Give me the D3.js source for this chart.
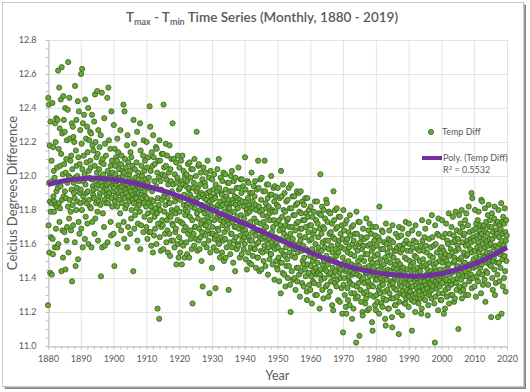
<!DOCTYPE html>
<html><head><meta charset="utf-8">
<script src="https://cdn.jsdelivr.net/npm/d3@7"></script>
<style>
body{margin:0;background:#fff}
svg{display:block}
text{font-family:Lato,"Open Sans","Liberation Sans",sans-serif}
</style></head>
<body><svg id="c" width="530" height="392"></svg>
<script>
// ---- data (monthly Tmax - Tmin, °C), one array per decade ----
const v1880=[11.24,12.46,11.71,12.42,11.96,11.55,12.18,11.85,11.43,12.32,11.79,11.64,
11.84,12.09,11.42,11.97,12.43,11.63,11.54,12.17,11.88,12.03,11.79,11.85,
11.99,11.58,12.31,11.83,12.20,11.69,12.34,11.91,11.82,12.05,11.58,12.33,
11.93,12.62,11.60,12.16,11.84,12.52,11.73,12.28,11.81,12.06,11.94,12.45,
12.13,11.44,12.64,11.86,12.25,11.68,12.01,11.52,12.47,11.88,12.33,12.07,
11.67,12.26,11.91,12.40,11.45,12.02,11.87,12.10,11.62,12.21,11.70,11.96,
12.39,11.82,12.67,11.55,12.00,11.75,12.46,11.86,12.22,11.99,12.09,11.79,
11.68,12.12,11.92,12.31,11.38,12.04,11.83,12.29,11.71,12.23,11.96,11.90,
12.20,11.87,11.61,12.53,11.99,11.47,12.15,11.80,12.33,12.06,11.93,12.00,
11.85,12.44,11.51,12.11,11.73,12.38,11.97,11.66,12.07,11.90,12.27,11.84];
const v1890=[11.92,12.60,11.69,12.19,11.80,12.63,12.04,11.58,12.31,11.88,11.97,12.12,
12.36,11.85,12.01,11.63,12.45,11.95,11.76,12.22,11.90,12.08,11.84,12.29,
11.72,12.14,11.91,12.40,11.60,12.03,11.86,12.21,11.99,11.82,12.26,12.09,
12.05,11.81,12.25,11.58,11.98,12.36,11.73,12.18,11.94,11.89,12.15,11.92,
11.87,12.32,11.66,12.06,12.48,11.75,12.20,11.97,11.84,12.11,11.93,12.02,
12.50,11.79,12.13,11.62,12.27,11.95,11.85,12.04,11.88,12.17,11.99,11.90,
11.83,12.24,11.41,12.08,11.96,12.49,11.58,11.94,12.10,11.78,12.01,11.91,
12.07,11.70,12.34,11.86,11.59,12.19,11.93,11.98,12.12,11.84,11.89,11.95,
11.92,12.46,11.61,12.03,11.84,12.52,11.88,12.21,11.96,11.90,12.00,11.99,
12.16,11.73,12.06,11.65,12.38,11.87,12.09,11.82,11.94,12.02,11.97,11.91];
const v1900=[11.66,12.30,11.93,11.47,12.16,11.85,12.06,12.01,11.88,12.11,11.95,11.97,
12.09,11.82,12.22,11.60,11.98,12.14,11.71,11.90,12.04,11.86,11.93,11.99,
11.78,12.27,11.91,12.07,11.68,12.12,11.94,11.84,12.03,11.89,12.00,11.96,
12.42,11.73,12.02,11.63,12.38,11.87,12.10,11.81,11.95,12.05,11.92,11.90,
11.83,12.18,11.58,12.24,11.95,11.70,12.08,11.88,11.99,12.01,11.85,11.93,
12.03,11.66,12.14,11.91,11.75,12.11,11.80,11.97,12.06,11.86,11.94,11.89,
11.44,12.33,11.84,12.19,11.69,11.96,12.04,11.77,11.99,11.88,11.92,11.87,
12.08,11.81,12.26,11.62,11.94,11.72,12.02,11.90,11.98,11.85,11.83,11.93,
11.79,12.31,11.57,12.15,11.96,11.71,12.06,11.89,12.00,11.87,11.93,11.95,
12.12,11.67,12.21,11.84,12.03,11.76,11.91,12.09,11.88,11.98,11.94,11.82];
const v1910=[11.70,12.20,11.87,12.05,11.63,11.96,11.78,12.11,11.84,11.99,11.67,11.93,
12.41,11.74,12.29,11.67,12.03,11.82,11.59,11.86,12.14,11.91,11.79,12.06,
11.55,12.24,11.85,12.11,11.65,11.97,11.76,12.07,11.69,11.93,11.81,12.17,
11.94,11.60,12.16,11.78,12.02,11.22,11.87,11.72,12.09,11.83,11.99,11.16,
12.21,11.64,12.09,11.80,11.97,11.56,11.92,11.70,12.13,11.86,11.74,12.01,
11.71,12.13,11.57,12.42,11.88,12.05,11.79,12.00,11.66,11.90,11.83,12.19,
12.06,11.61,11.98,11.74,12.12,11.68,11.87,11.55,11.95,11.77,12.02,11.84,
11.66,12.18,11.84,11.53,12.04,11.76,11.97,11.62,12.10,11.80,11.91,11.72,
12.31,11.71,11.95,11.62,12.10,11.79,11.88,11.58,12.01,11.85,11.67,11.78,
11.69,12.08,11.48,11.96,11.81,11.99,11.74,12.12,11.60,11.87,11.52,11.92];
const v1920=[11.64,12.05,11.79,11.93,11.55,11.86,11.73,12.09,11.61,11.97,11.48,11.88,
12.12,11.72,11.95,11.59,12.03,11.83,11.68,11.89,11.52,12.00,11.77,11.80,
11.70,11.94,11.61,12.01,11.83,11.54,11.97,11.79,12.07,11.66,11.84,11.92,
11.93,11.52,12.08,11.76,11.89,11.68,11.99,11.63,12.04,11.82,11.57,11.87,
11.74,11.25,12.04,11.84,11.93,11.66,11.96,11.59,12.10,11.81,11.70,11.85,
11.70,12.00,11.63,11.91,12.26,11.78,11.87,11.56,11.93,11.75,12.06,11.62,
12.07,11.69,11.88,11.57,11.95,11.80,11.64,12.02,11.72,11.90,11.50,11.83,
11.67,11.98,11.35,11.89,11.81,12.05,11.74,11.60,11.87,11.78,11.96,11.71,
11.94,11.65,12.02,11.71,11.86,11.58,11.90,11.80,12.09,11.68,11.76,11.84,
11.62,11.99,11.73,11.31,11.91,11.85,11.55,12.03,11.77,11.88,11.66,11.82];
const v1930=[11.46,11.98,11.70,11.86,11.66,11.92,11.58,11.81,12.01,11.74,11.63,11.88,
11.87,11.34,11.95,11.65,11.80,11.56,11.91,11.76,12.04,11.69,11.83,11.61,
11.68,12.10,11.60,11.93,11.77,11.52,11.85,11.74,11.99,11.64,11.82,11.90,
11.89,11.55,11.97,11.71,11.83,11.62,12.02,11.73,11.50,11.86,11.67,11.79,
11.63,12.01,11.52,11.92,11.75,11.88,11.58,11.84,11.69,11.96,11.73,11.81,
11.86,11.33,11.96,11.72,11.81,11.61,11.91,11.54,11.78,12.00,11.66,11.84,
11.66,12.03,11.58,11.91,11.73,11.86,11.49,11.84,11.97,11.62,11.79,11.70,
11.88,11.44,11.99,11.64,11.83,11.70,11.93,11.57,11.76,11.87,11.60,11.81,
11.59,12.05,11.69,11.93,11.73,11.86,11.52,11.84,11.65,11.98,11.77,11.71,
11.90,11.54,11.98,11.62,11.85,11.68,11.94,11.71,11.57,11.82,11.75,11.64];
const v1940=[11.60,12.11,11.68,11.92,11.51,11.85,11.66,11.80,11.45,11.78,11.97,11.72,
11.87,11.55,11.96,11.64,11.83,11.49,11.79,11.62,11.90,11.73,11.58,11.81,
11.48,12.02,11.62,11.90,11.67,11.85,11.53,11.81,11.70,11.94,11.57,11.75,
11.88,11.57,11.97,11.65,11.83,11.46,11.80,11.60,11.73,11.92,11.68,11.52,
11.52,12.09,11.61,11.93,11.68,11.82,11.44,11.79,11.64,11.98,11.72,11.56,
11.86,11.45,11.99,11.63,11.80,11.55,11.77,11.66,11.91,11.50,11.73,11.69,
11.59,12.09,11.64,11.91,11.47,11.84,11.70,11.81,11.56,11.95,11.62,11.76,
11.87,11.42,11.95,11.58,11.82,11.63,11.78,11.51,11.74,11.89,11.66,11.54,
11.54,12.00,11.61,11.89,11.67,11.80,11.48,11.79,11.70,11.93,11.58,11.74,
11.85,11.39,11.94,11.57,11.79,11.64,11.88,11.50,11.72,11.61,11.83,11.46];
const v1950=[11.45,11.93,11.58,11.82,11.52,11.74,11.38,11.68,11.87,11.63,11.49,11.71,
11.31,12.03,11.56,11.88,11.49,11.76,11.62,11.43,11.95,11.69,11.54,11.80,
11.66,11.42,11.90,11.53,11.79,11.35,11.71,11.58,11.85,11.47,11.64,11.74,
11.51,11.86,11.40,11.75,11.62,11.93,11.47,11.70,11.55,11.81,11.36,11.66,
11.20,11.95,11.59,11.81,11.44,11.70,11.53,11.88,11.63,11.39,11.77,11.57,
11.60,11.88,11.40,11.77,11.52,11.68,11.33,11.83,11.57,11.72,11.46,11.91,
11.38,11.84,11.55,11.73,11.46,11.90,11.60,11.42,11.79,11.65,11.29,11.69,
11.62,11.91,11.44,11.78,11.56,11.69,11.37,11.85,11.50,11.74,11.59,11.48,
11.35,11.83,11.52,11.74,11.45,11.64,11.87,11.41,11.70,11.57,11.78,11.32,
11.27,11.87,11.48,11.76,11.56,11.67,11.43,11.80,11.36,11.62,11.71,11.53];
const v1960=[11.33,11.82,11.47,11.71,11.41,11.63,11.25,11.57,11.76,11.50,11.38,11.66,
11.44,11.79,11.37,11.68,11.52,11.85,11.30,11.60,11.46,11.74,11.55,11.42,
11.30,11.85,11.49,11.72,11.43,11.64,11.58,11.36,11.78,11.53,11.22,11.69,
11.42,12.01,11.45,11.77,11.39,11.66,11.56,11.82,11.33,11.61,11.48,11.70,
11.28,11.80,11.50,11.69,11.40,11.58,11.75,11.45,11.62,11.35,11.86,11.53,
11.44,11.84,11.36,11.73,11.48,11.62,11.29,11.57,11.79,11.42,11.66,11.51,
11.32,11.78,11.43,11.67,11.38,11.59,11.51,11.72,11.24,11.55,11.46,11.64,
11.21,11.91,11.41,11.74,11.50,11.63,11.37,11.80,11.44,11.57,11.69,11.53,
11.35,11.81,11.49,11.70,11.39,11.60,11.27,11.55,11.76,11.46,11.62,11.43,
11.26,11.76,11.40,11.66,11.45,11.58,11.34,11.71,11.48,11.19,11.63,11.52];
const v1970=[11.08,11.80,11.36,11.68,11.40,11.57,11.30,11.49,11.72,11.44,11.23,11.61,
11.19,11.74,11.45,11.63,11.34,11.55,11.27,11.50,11.67,11.41,11.58,11.38,
11.24,11.77,11.37,11.65,11.44,11.54,11.31,11.70,11.48,11.16,11.60,11.42,
11.36,11.71,11.22,11.62,11.43,11.53,11.31,11.66,11.47,11.58,11.28,11.45,
11.02,11.79,11.35,11.66,11.42,11.56,11.29,11.50,11.73,11.37,11.60,11.47,
11.06,11.73,11.41,11.61,11.33,11.52,11.26,11.64,11.45,11.39,11.57,11.20,
11.18,11.69,11.40,11.59,11.31,11.50,11.37,11.63,11.46,11.25,11.54,11.43,
11.28,11.75,11.32,11.64,11.43,11.54,11.21,11.59,11.38,11.68,11.47,11.35,
11.22,11.72,11.41,11.60,11.30,11.51,11.44,11.66,11.36,11.56,11.14,11.49,
11.09,11.70,11.35,11.58,11.46,11.29,11.62,11.42,11.53,11.24,11.65,11.39];
const v1980=[11.21,11.70,11.30,11.59,11.39,11.49,11.26,11.54,11.42,11.64,11.33,11.45,
11.19,11.82,11.35,11.62,11.31,11.51,11.40,11.57,11.25,11.47,11.68,11.37,
11.23,11.67,11.36,11.57,11.28,11.48,11.41,11.61,11.32,11.44,11.16,11.52,
11.12,11.72,11.27,11.60,11.39,11.50,11.33,11.55,11.45,11.22,11.63,11.42,
11.22,11.68,11.31,11.58,11.36,11.49,11.44,11.62,11.28,11.53,11.38,11.17,
11.11,11.71,11.37,11.61,11.28,11.52,11.46,11.34,11.56,11.40,11.24,11.48,
11.24,11.66,11.33,11.56,11.45,11.29,11.58,11.39,11.50,11.20,11.64,11.43,
11.07,11.70,11.26,11.59,11.36,11.48,11.31,11.55,11.42,11.65,11.35,11.46,
11.18,11.69,11.32,11.57,11.39,11.46,11.30,11.60,11.43,11.25,11.52,11.37,
11.25,11.73,11.28,11.62,11.40,11.51,11.33,11.45,11.56,11.36,11.66,11.30];
const v1990=[11.23,11.72,11.29,11.60,11.39,11.50,11.32,11.47,11.56,11.35,11.44,11.27,
11.09,11.68,11.35,11.58,11.30,11.49,11.41,11.62,11.26,11.45,11.53,11.38,
11.20,11.71,11.31,11.61,11.40,11.52,11.34,11.46,11.57,11.28,11.43,11.37,
11.25,11.66,11.32,11.56,11.35,11.50,11.28,11.44,11.59,11.38,11.19,11.47,
11.22,11.74,11.30,11.62,11.35,11.51,11.41,11.56,11.33,11.47,11.64,11.38,
11.27,11.69,11.31,11.59,11.36,11.48,11.42,11.55,11.34,11.45,11.18,11.40,
11.24,11.73,11.30,11.63,11.37,11.49,11.32,11.53,11.44,11.58,11.36,11.42,
11.28,11.77,11.33,11.64,11.39,11.52,11.35,11.48,11.59,11.43,11.25,11.46,
11.02,11.71,11.29,11.60,11.38,11.49,11.34,11.55,11.44,11.66,11.36,11.40,
11.21,11.75,11.31,11.65,11.39,11.50,11.35,11.57,11.45,11.27,11.53,11.41];
const v2000=[11.27,11.58,11.74,11.37,11.49,11.64,11.31,11.42,11.56,11.19,11.52,11.40,
11.45,11.22,11.66,11.33,11.54,11.72,11.39,11.50,11.29,11.62,11.36,11.47,
11.60,11.34,11.48,11.78,11.25,11.53,11.42,11.66,11.38,11.30,11.57,11.44,
11.36,11.70,11.43,11.55,11.30,11.61,11.76,11.39,11.49,11.65,11.26,11.52,
11.50,11.28,11.62,11.44,11.79,11.37,11.56,11.33,11.68,11.46,11.40,11.59,
11.47,11.63,11.10,11.57,11.42,11.77,11.35,11.51,11.67,11.46,11.72,11.32,
11.39,11.52,11.80,11.28,11.61,11.43,11.70,11.48,11.33,11.65,11.55,11.41,
11.66,11.36,11.49,11.74,11.44,11.59,11.30,11.78,11.53,11.41,11.62,11.47,
11.54,11.71,11.30,11.60,11.82,11.45,11.38,11.67,11.48,11.57,11.40,11.63,
11.42,11.61,11.90,11.34,11.55,11.87,11.49,11.68,11.40,11.64,11.51,11.46];
const v2010=[11.62,11.35,11.56,11.80,11.47,11.69,11.29,11.72,11.52,11.41,11.65,11.58,
11.49,11.74,11.38,11.61,11.79,11.55,11.43,11.68,11.51,11.64,11.46,11.71,
11.57,11.31,11.86,11.48,11.66,11.85,11.42,11.60,11.36,11.70,11.53,11.63,
11.71,11.52,11.39,11.81,11.58,11.26,11.67,11.44,11.73,11.55,11.49,11.62,
11.43,11.66,11.77,11.36,11.59,11.83,11.50,11.70,11.48,11.63,11.74,11.55,
11.60,11.47,11.17,11.70,11.54,11.78,11.40,11.63,11.33,11.67,11.50,11.58,
11.52,11.75,11.45,11.82,11.30,11.65,11.59,11.37,11.72,11.55,11.68,11.49,
11.66,11.42,11.73,11.17,11.58,11.80,11.49,11.64,11.38,11.71,11.54,11.60,
11.46,11.69,11.56,11.84,11.19,11.62,11.73,11.51,11.66,11.35,11.76,11.58,
11.59,11.40,11.72,11.53,11.81,11.44,11.67,11.32,11.62,11.74,11.50,11.65];
const decadeStarts=[1880,1890,1900,1910,1920,1930,1940,1950,1960,1970,1980,1990,2000,2010];
const decadeValues=[v1880,v1890,v1900,v1910,v1920,v1930,v1940,v1950,v1960,v1970,v1980,v1990,v2000,v2010];

// polynomial trend line
const trendYears=[1880,1885,1890,1895,1900,1905,1910,1915,1920,1925,1930,1935,1940,1945,1950,1955,1960,1965,1970,1975,1980,1985,1990,1995,2000,2005,2010,2015,2020];
const trendValues=[11.95,11.975,11.985,11.99,11.98,11.965,11.94,11.915,11.88,11.845,11.80,11.76,11.72,11.675,11.63,11.59,11.55,11.51,11.475,11.45,11.43,11.42,11.41,11.41,11.425,11.45,11.48,11.525,11.58];

const xTicks=[1880,1890,1900,1910,1920,1930,1940,1950,1960,1970,1980,1990,2000,2010,2020];
const yTicks=[11.0,11.2,11.4,11.6,11.8,12.0,12.2,12.4,12.6,12.8];
const titleParts=[["T",""],["max","sub"],[" - T",""],["min","sub"],[" Time Series (Monthly, 1880 - 2019)",""]];
const xTitle="Year", yTitle="Celcius Degrees Difference";
const legendScatter="Temp Diff", legendTrend="Poly. (Temp Diff)", rSquared="0.5532";

// ---- drawing ----
const svg=d3.select("#c");
const L=48,R=507,T=40,B=346;
const x=d3.scaleLinear().domain([1880,2020]).range([L,R]);
const y=d3.scaleLinear().domain([11,12.8]).range([B,T]);
const textCol="#595959";

// frame with shadow
svg.append("rect").attr("x",5).attr("y",5).attr("width",521).attr("height",384).attr("fill","#7f7f7f");
svg.append("rect").attr("x",4).attr("y",4).attr("width",521).attr("height",384).attr("fill","#a6a6a6");
svg.append("rect").attr("x",2.5).attr("y",2.5).attr("width",521).attr("height",384)
  .attr("fill","#fff").attr("stroke","#c8c8c8").attr("stroke-width",1);

// gridlines
svg.append("g").selectAll("line").data(xTicks).join("line")
  .attr("x1",d=>x(d)+0.5).attr("x2",d=>x(d)+0.5).attr("y1",T).attr("y2",B)
  .attr("stroke","#e3e3e3").attr("stroke-width",1);
svg.append("g").selectAll("line").data(yTicks).join("line")
  .attr("x1",L).attr("x2",R).attr("y1",d=>Math.round(y(d))+0.5).attr("y2",d=>Math.round(y(d))+0.5)
  .attr("stroke","#e3e3e3").attr("stroke-width",1);

// axes
const xMinor=d3.range(1880,2021,2);
const yMinor=d3.range(11,12.801,0.05);
const gx=svg.append("g").attr("transform",`translate(0,${B+0.5})`);
gx.call(d3.axisBottom(x).tickValues(xMinor).tickSize(3).tickFormat("").tickSizeOuter(0));
const gxl=svg.append("g").attr("transform",`translate(0,${B+0.5})`);
gxl.call(d3.axisBottom(x).tickValues(xTicks).tickSize(0).tickPadding(9).tickFormat(d3.format("d")));
gxl.select(".domain").remove();
const gy=svg.append("g").attr("transform",`translate(${L+0.5},0)`);
gy.call(d3.axisLeft(y).tickValues(yMinor).tickSize(3).tickFormat("").tickSizeOuter(0));
const gyl=svg.append("g").attr("transform",`translate(${L+0.5},0)`);
gyl.call(d3.axisLeft(y).tickValues(yTicks).tickSize(0).tickPadding(12).tickFormat(d3.format(".1f")));
gyl.select(".domain").remove();
[gx,gy].forEach(g=>{g.selectAll("line").attr("stroke","#bfbfbf");g.select(".domain").attr("stroke","#bfbfbf");});
[gxl,gyl].forEach(g=>g.selectAll("text").attr("fill",textCol).style("font-size","9px").style("font-family","Lato,sans-serif"));

// scatter points
const pts=[];
decadeValues.forEach((arr,di)=>arr.forEach((v,i)=>pts.push({t:decadeStarts[di]+i/12,v})));
svg.append("g").selectAll("circle").data(pts).join("circle")
  .attr("cx",d=>x(d.t)).attr("cy",d=>y(d.v)).attr("r",2.6)
  .attr("fill","#6aaa3a").attr("stroke","#36601c").attr("stroke-width",0.8);

// trend line
const trend=trendYears.map((t,i)=>({t,v:trendValues[i]}));
svg.append("path").datum(trend)
  .attr("d",d3.line().x(d=>x(d.t)).y(d=>y(d.v)).curve(d3.curveBasis))
  .attr("fill","none").attr("stroke","#7030a0").attr("stroke-width",5).attr("stroke-linecap","butt");

// title
const title=svg.append("text").attr("x",262).attr("y",22).attr("text-anchor","middle")
  .attr("fill",textCol).style("font-size","13.5px").style("font-weight","600");
titleParts.forEach(([s,k],i)=>{
  const prev=i>0?titleParts[i-1][1]:"";
  const ts=title.append("tspan").text(s);
  if(k==="sub") ts.attr("dy",3).style("font-size","9px");
  else if(prev==="sub") ts.attr("dy",-3);
});

// axis titles
svg.append("text").attr("x",x(1950)).attr("y",380).attr("text-anchor","middle")
  .attr("fill",textCol).style("font-size","12.5px").text(xTitle);
svg.append("text").attr("transform",`translate(17,${(T+B)/2}) rotate(-90)`).attr("text-anchor","middle")
  .attr("fill",textCol).style("font-size","13px").text(yTitle);

// legend
const lg=svg.append("g").style("font-size","9px");
lg.append("circle").attr("cx",431).attr("cy",132).attr("r",2.6).attr("fill","#6aaa3a").attr("stroke","#36601c").attr("stroke-width",0.8);
lg.append("text").attr("x",442).attr("y",135).attr("fill",textCol).text(legendScatter);
lg.append("line").attr("x1",422).attr("x2",442).attr("y1",158).attr("y2",158).attr("stroke","#7030a0").attr("stroke-width",4);
lg.append("text").attr("x",443).attr("y",161).attr("fill",textCol).text(legendTrend);
const r2=lg.append("text").attr("x",443).attr("y",173).attr("fill",textCol);
r2.append("tspan").text("R");
r2.append("tspan").attr("dy",-3).style("font-size","6px").text("2");
r2.append("tspan").attr("dy",3).text(" = "+rSquared);
</script></body></html>
